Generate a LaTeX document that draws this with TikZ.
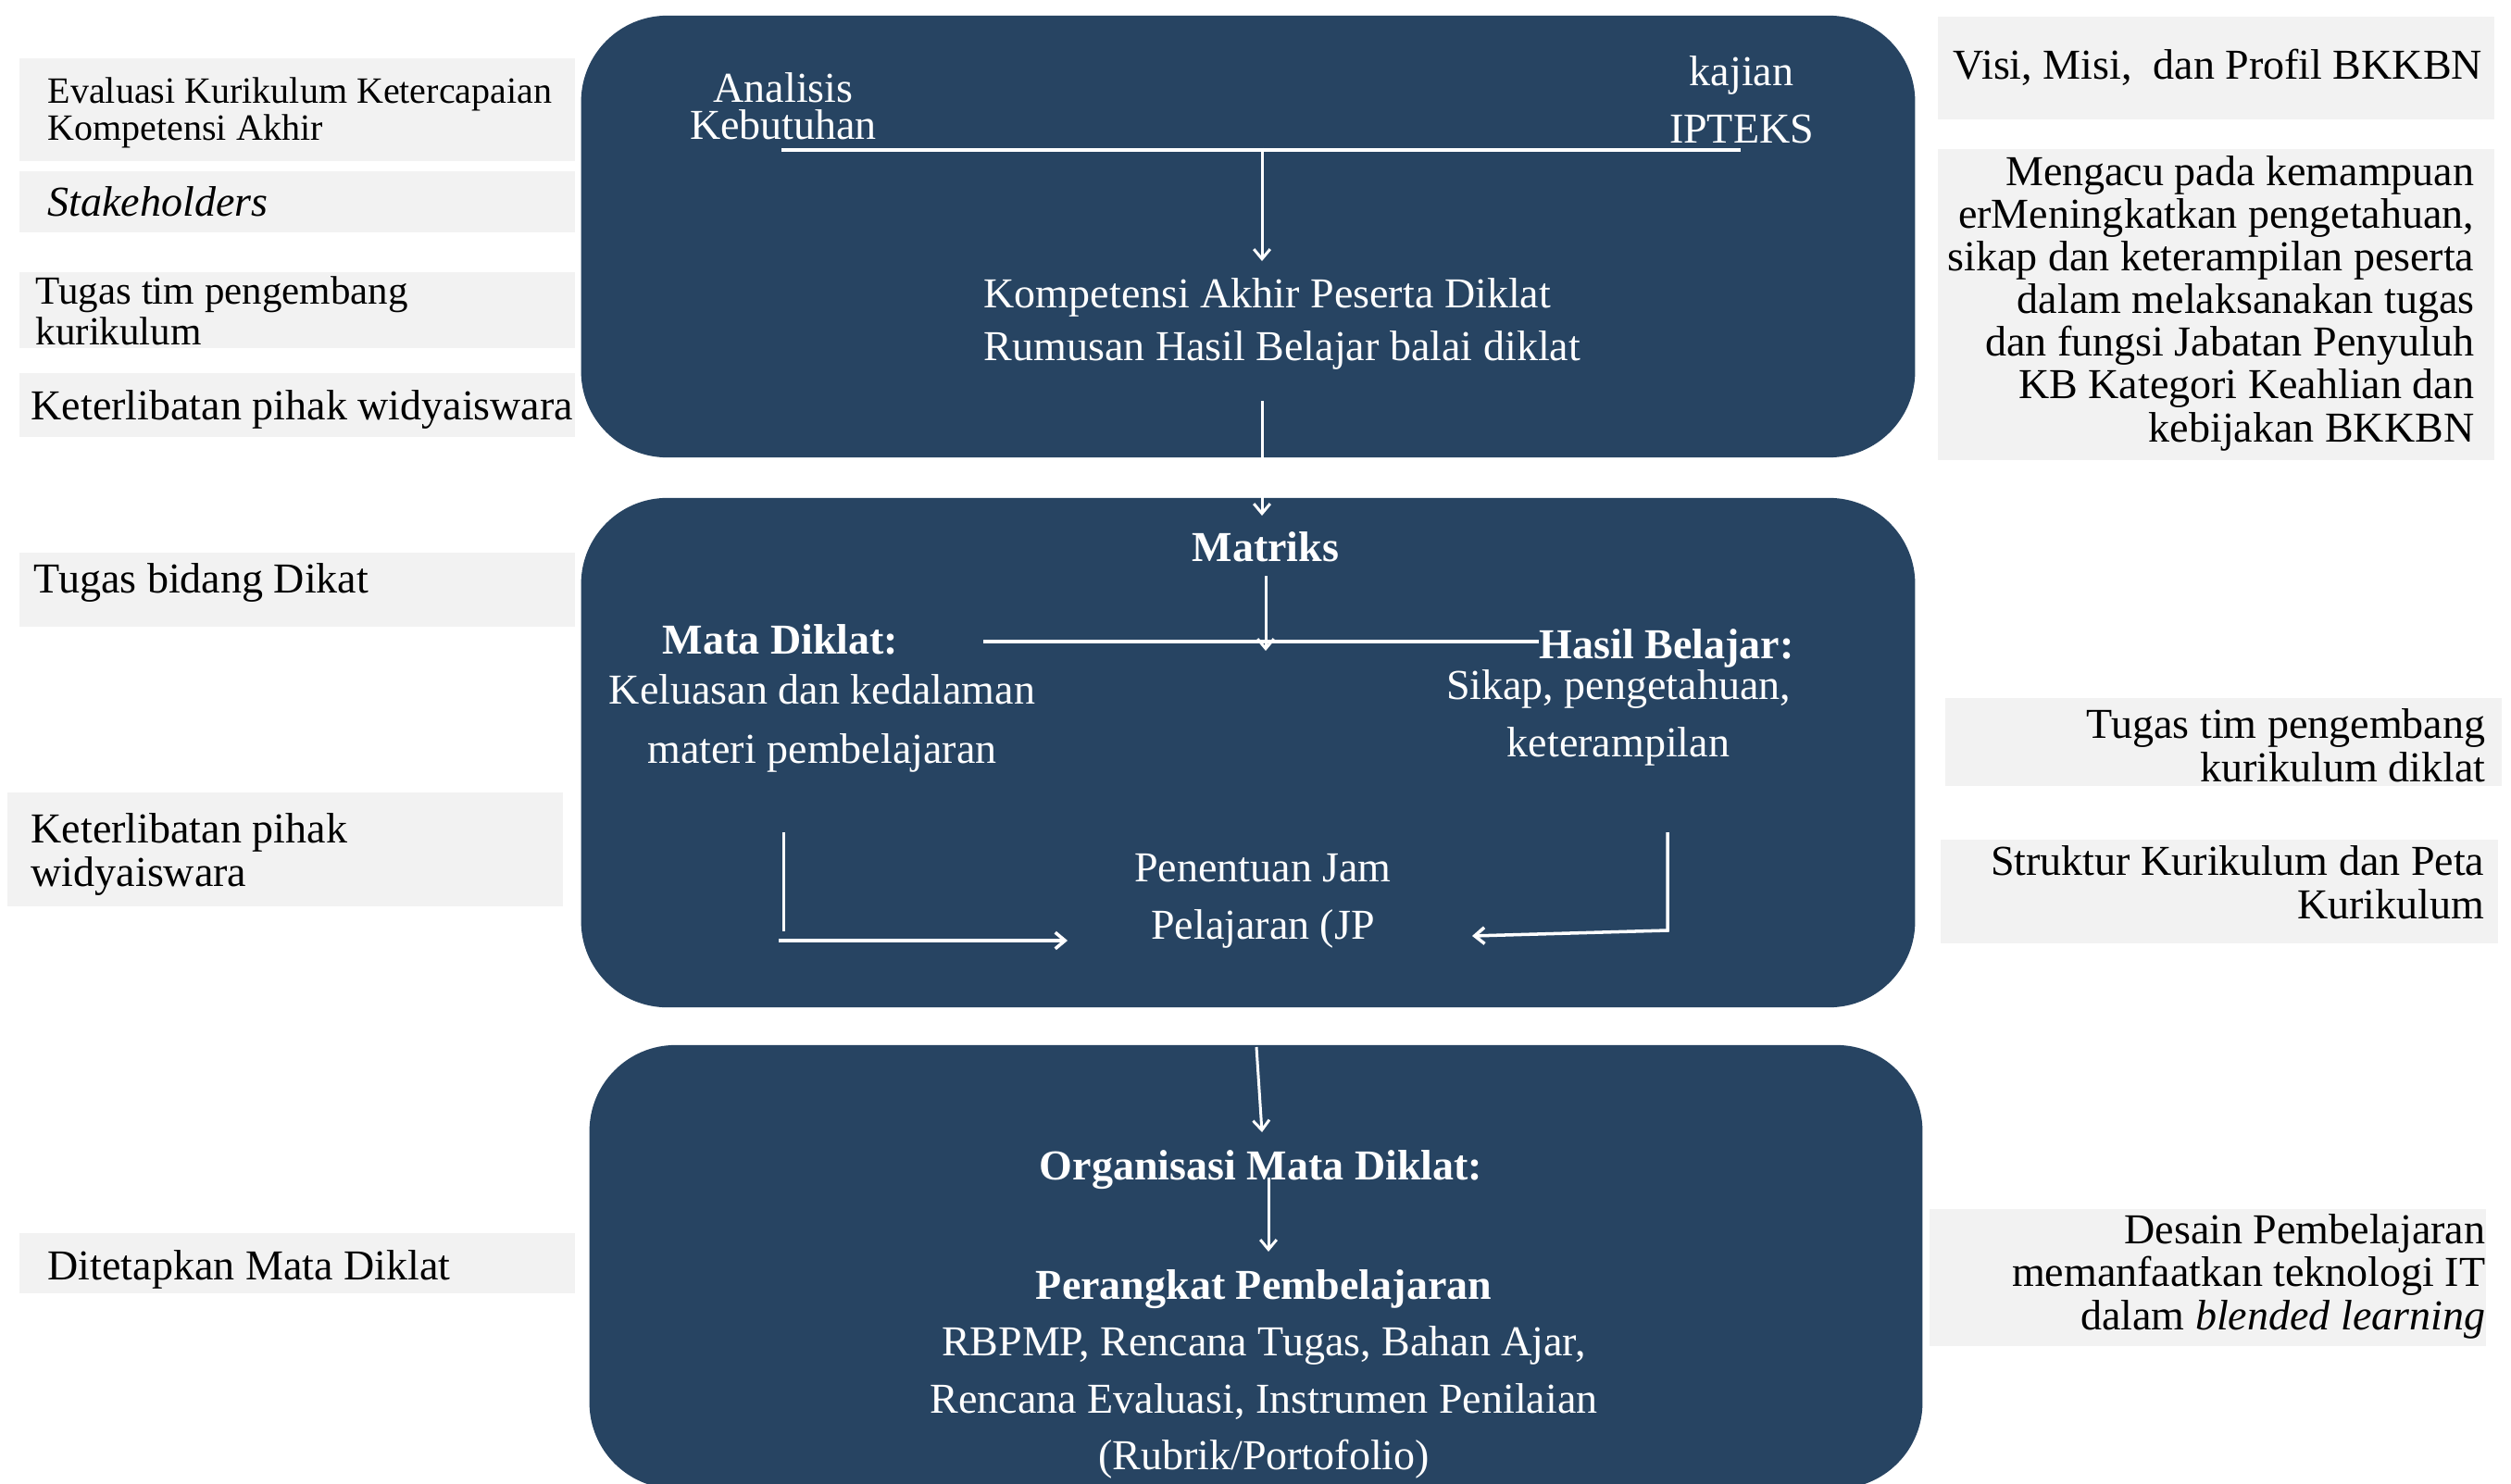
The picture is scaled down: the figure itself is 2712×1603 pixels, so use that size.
\documentclass[tikz,border=0pt]{standalone}
\usepackage{fontspec}
\setmainfont{Liberation Serif}
\usetikzlibrary{arrows.meta}
\definecolor{navyc}{RGB}{39,68,98}
\definecolor{greyc}{RGB}{242,242,242}
\tikzset{
  fs/.style 2 args={font=\fontsize{#1pt}{#2pt}\selectfont},
  navybox/.style={rectangle, fill=navyc, rounded corners=0.93cm, inner sep=0pt},
  greybox/.style={rectangle, fill=greyc, inner sep=0pt},
  wtxt/.style={text=white, inner sep=0pt},
  ktxt/.style={text=black, inner sep=0pt},
  wline/.style={draw=white, line width=0.85pt},
  wbar/.style={draw=white, line width=1.15pt},
  warrow/.style={wline, -{Straight Barb[length=3pt,width=5pt]}},
}
\begin{document}
\begin{tikzpicture}[x=0.01cm, y=-0.01cm]
\clip (0,0) rectangle (2712,1603);
\fill[white] (0,0) rectangle (2712,1603);

% navy boxes
\node[navybox, minimum width=14.40cm, minimum height=4.77cm] (b1) at (1348,255.5) {};
\node[navybox, minimum width=14.40cm, minimum height=5.50cm] (b2) at (1348,813) {};
\node[navybox, minimum width=14.39cm, minimum height=4.79cm] (b3) at (1356.5,1368.5) {};

% grey boxes left
\node[greybox, minimum width=6.00cm, minimum height=1.11cm] (l1) at (321,118.5) {};
\node[greybox, minimum width=6.00cm, minimum height=0.66cm] (l2) at (321,218) {};
\node[greybox, minimum width=6.00cm, minimum height=0.82cm] (l3) at (321,335) {};
\node[greybox, minimum width=6.00cm, minimum height=0.69cm] (l4) at (321,437.5) {};
\node[greybox, minimum width=6.00cm, minimum height=0.80cm] (l5) at (321,637) {};
\node[greybox, minimum width=6.00cm, minimum height=1.23cm] (l6) at (308,917.5) {};
\node[greybox, minimum width=6.00cm, minimum height=0.65cm] (l7) at (321,1364.5) {};
% grey boxes right
\node[greybox, minimum width=6.01cm, minimum height=1.11cm] (r1) at (2393.5,73.5) {};
\node[greybox, minimum width=6.01cm, minimum height=3.36cm] (r2) at (2393.5,329) {};
\node[greybox, minimum width=6.01cm, minimum height=0.95cm] (r3) at (2401.5,801.5) {};
\node[greybox, minimum width=6.02cm, minimum height=1.12cm] (r4) at (2397,963) {};
\node[greybox, minimum width=6.01cm, minimum height=1.48cm] (r5) at (2384.5,1380) {};

% left texts (multi-line nodes: base = last line's baseline)
\node[ktxt, fs={11.38}{11.38}, align=left, anchor=base west] (t1) at (51,152)
  {Evaluasi Kurikulum Ketercapaian\\Kompetensi Akhir};
\node[ktxt, fs={13.09}{13.09}, anchor=base west] (t2) at (51,234) {\textit{Stakeholders}};
\node[ktxt, fs={12.23}{12.23}, align=left, anchor=base west] (t3) at (38,372)
  {Tugas tim pengembang\\kurikulum};
\node[ktxt, fs={13.09}{13.09}, anchor=base west] (t4) at (33,453) {Keterlibatan pihak widyaiswara};
\node[ktxt, fs={13.09}{13.09}, anchor=base west] (t5) at (36,640) {Tugas bidang Dikat};
\node[ktxt, fs={13.09}{13.09}, align=left, anchor=base west] (t6) at (33,957)
  {Keterlibatan pihak\\widyaiswara};
\node[ktxt, fs={13.09}{13.09}, anchor=base west] (t7) at (51,1382) {Ditetapkan Mata Diklat};

% right texts
\node[ktxt, fs={13.09}{13.09}, anchor=base west] (u1) at (2109,86) {Visi, Misi,\ \ dan Profil BKKBN};
\node[ktxt, fs={13.09}{13.09}, align=right, anchor=base east] (u2) at (2673,477)
  {Mengacu pada kemampuan\\erMeningkatkan pengetahuan,\\sikap dan keterampilan peserta\\dalam melaksanakan tugas\\dan fungsi Jabatan Penyuluh\\KB Kategori Keahlian dan\\kebijakan BKKBN};
\node[ktxt, fs={13.09}{13.09}, align=right, anchor=base east] (u3) at (2685,844)
  {Tugas tim pengembang\\kurikulum diklat};
\node[ktxt, fs={13.09}{13.09}, align=right, anchor=base east] (u4) at (2684,992)
  {Struktur Kurikulum dan Peta\\Kurikulum};
\node[ktxt, fs={13.09}{13.09}, align=right, anchor=base east] (u5) at (2685,1436)
  {Desain Pembelajaran\\memanfaatkan teknologi IT\\dalam \textit{blended learning}};

% box 1 texts
\node[wtxt, fs={13.09}{11.6}, align=center, anchor=base] (ak) at (846,151) {Analisis\\Kebutuhan};
\node[wtxt, fs={13.09}{17.64}, align=center, anchor=base] (ki) at (1881,155) {kajian\\IPTEKS};
\node[wtxt, fs={13.09}{16.2}, align=left, anchor=base west] (kom) at (1062,389)
  {Kompetensi Akhir Peserta Diklat\\Rumusan Hasil Belajar balai diklat};

% box 2 texts
\node[wtxt, fs={13.09}{13.09}, anchor=base] (mat) at (1367,606) {\textbf{Matriks}};
\node[wtxt, fs={13.09}{13.09}, anchor=base] (md) at (843,706) {\textbf{Mata Diklat:}};
\node[wtxt, fs={13.09}{18.0}, align=center, anchor=base] (kel) at (888,824)
  {Keluasan dan kedalaman\\materi pembelajaran};
\node[wtxt, fs={13.09}{13.09}, anchor=base] (hb) at (1800,711) {\textbf{Hasil Belajar:}};
\node[wtxt, fs={13.09}{17.5}, align=center, anchor=base] (sik) at (1748,817)
  {Sikap, pengetahuan,\\keterampilan};
\node[wtxt, fs={13.09}{17.35}, align=center, anchor=base] (jp) at (1364,1014)
  {Penentuan Jam\\Pelajaran (JP};

% box 3 texts
\node[wtxt, fs={13.09}{13.09}, anchor=base] (org) at (1362,1274) {\textbf{Organisasi Mata Diklat:}};
\node[wtxt, fs={13.09}{17.35}, align=center, anchor=base] (per) at (1365,1587)
  {\textbf{Perangkat Pembelajaran}\\RBPMP, Rencana Tugas, Bahan Ajar,\\Rencana Evaluasi, Instrumen Penilaian\\(Rubrik/Portofolio)};

% connector points
\coordinate (h1l) at (844,162);
\coordinate (h1r) at (1880,162);
\coordinate (h1m) at (1363,160);
\coordinate (h1t) at (1363,282);
\coordinate (c12a) at (1363,433);
\coordinate (c12b) at (1363,557);
\coordinate (m1) at (1367,622);
\coordinate (m2) at (1367,703);
\coordinate (h2l) at (1062,693);
\coordinate (h2r) at (1662,693);
\coordinate (lv1) at (846,899);
\coordinate (lv2) at (846,1006);
\coordinate (lh1) at (841,1016);
\coordinate (lh2) at (1153,1016);
\coordinate (rv1) at (1801,899);
\coordinate (rv2) at (1801,1005);
\coordinate (rh2) at (1590,1011);
\coordinate (c3a) at (1357,1131);
\coordinate (c3b) at (1363,1223);
\coordinate (c3c) at (1370,1272);
\coordinate (c3d) at (1370,1352);

% connectors
\draw[wbar] (h1l) -- (h1r);
\draw[warrow] (h1m) -- (h1t);
\draw[warrow] (c12a) -- (c12b);
\draw[warrow] (m1) -- (m2);
\draw[wbar] (h2l) -- (h2r);
\draw[wline] (lv1) -- (lv2);
\draw[warrow, line width=1pt] (lh1) -- (lh2);
\draw[warrow, line width=1pt] (rv1) -- (rv2) -- (rh2);
\draw[warrow] (c3a) -- (c3b);
\draw[warrow] (c3c) -- (c3d);
\end{tikzpicture}
\end{document}
